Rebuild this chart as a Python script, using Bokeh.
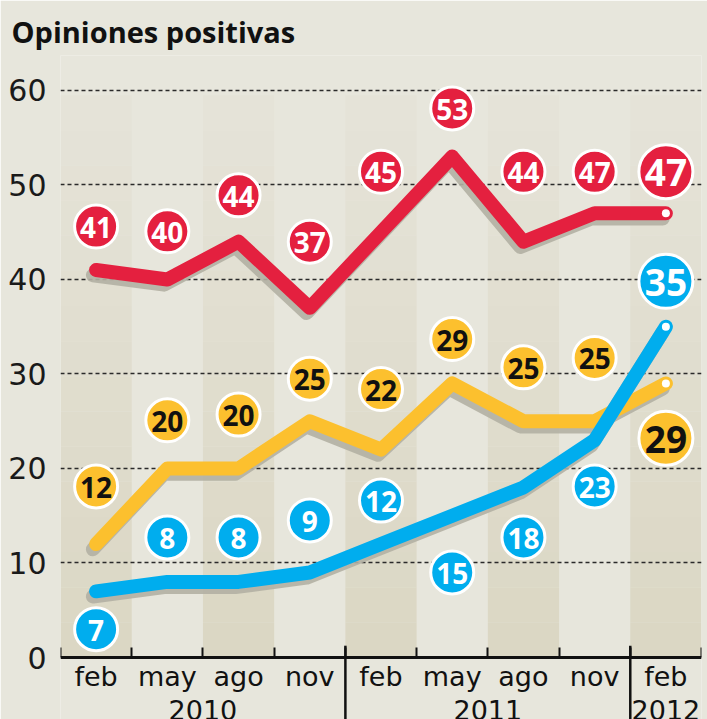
from bokeh.plotting import figure
from bokeh.models import FixedTicker, Range1d, ColumnDataSource
from bokeh.core.properties import value
from bokeh.embed import file_html
from bokeh.resources import INLINE

# ---- data ----
months = ["feb", "may", "ago", "nov", "feb", "may", "ago", "nov", "feb"]
years = ["2010", "2011", "2012"]
year_first_idx = [0, 4, 8]
year_last_idx = [3, 7, 8]
red = [41, 40, 44, 37, 45, 53, 44, 47, 47]
yellow = [12, 20, 20, 25, 22, 29, 25, 25, 29]
blue = [7, 8, 8, 9, 12, 15, 18, 23, 35]
# label bubble heights (data units) as placed in the original
red_lab = [45.6, 45.1, 48.9, 44.0, 51.4, 58.1, 51.4, 51.4, 51.4]
yellow_lab = [18.1, 25.1, 25.7, 29.5, 28.4, 33.7, 30.7, 31.7, 23.2]
blue_lab = [3.0, 12.7, 12.7, 14.5, 16.6, 9.0, 12.7, 18.1, 39.8]
y_ticks = [0, 10, 20, 30, 40, 50, 60]

RED = "#e4203f"
YEL = "#fcc02e"
BLU = "#00adee"
BG = "#e7e6dc"
SHADOW = "#b3b0a3"

n = len(months)
xs = list(range(n))

p = figure(width=707, height=719,
           x_range=Range1d(-0.5, 8.5), y_range=Range1d(-6.56, 63.70),
           min_border_left=60, min_border_right=6, min_border_top=55,
           min_border_bottom=0, output_backend="svg", toolbar_location=None)
p.background_fill_color = BG
p.border_fill_color = BG
p.outline_line_color = None
p.xgrid.visible = False
p.ygrid.visible = False

# title
p.title.text = "Opiniones positivas"
p.title.text_font = "Open Sans"
p.title.text_font_size = "29px"
p.title.text_font_style = "bold"
p.title.text_color = "#111111"
p.title.align = "left"
p.title.offset = -49
p.title.standoff = 9

# alternating column bands with a soft vertical gradient
band_top = 59.5
steps = 16
c_bot = (219, 215, 196)
c_top = (229, 227, 216)
for i in xs:
    if i % 2 == 0:
        for s in range(steps):
            t = s / (steps - 1)
            col = tuple(int(round(c_bot[k] + (c_top[k] - c_bot[k]) * t)) for k in range(3))
            y0 = band_top * s / steps
            y1 = band_top * (s + 1) / steps
            p.quad(left=i - 0.5, right=i + 0.5, bottom=y0, top=y1,
                   fill_color="#%02x%02x%02x" % col, line_color=None)

# dashed gridlines
p.hspan(y=y_ticks[1:], line_color="#2a2a2a", line_width=1.4, line_dash="4 3")

# year separators
sep_x = [f - 0.5 for f in year_first_idx[1:]]
p.segment(x0=sep_x, y0=[-8] * len(sep_x), x1=sep_x, y1=[1.25] * len(sep_x),
          line_color="#111111", line_width=2.5)

# year labels
year_x = [(a + b) / 2 for a, b in zip(year_first_idx, year_last_idx)]
p.text(x=year_x, y=[-4.45] * len(years), text=years,
       text_font=value("DejaVu Sans"), text_font_size="27px",
       text_align="center", text_baseline="top", text_color="#111111")

# lines with shadow
dx, dy = -0.045, -0.55
for series, col in [(yellow, YEL), (blue, BLU), (red, RED)]:
    p.line([x + dx for x in xs], [v + dy for v in series], line_color=SHADOW,
           line_width=14, line_join="round", line_cap="round", line_alpha=0.9)
    p.line(xs, series, line_color=col, line_width=14,
           line_join="round", line_cap="round")
    p.scatter([xs[-1]], [series[-1]], size=8, fill_color="white", line_color=None)

# value bubbles
for series, labs, col, tcol in [(red, red_lab, RED, "white"),
                                (yellow, yellow_lab, YEL, "#111111"),
                                (blue, blue_lab, BLU, "white")]:
    sizes = [43] * (n - 1) + [54]
    fsz = ["28px"] * (n - 1) + ["37px"]
    src = ColumnDataSource(dict(x=xs, y=labs, t=[str(v) for v in series],
                                s=sizes, f=fsz))
    p.scatter("x", "y", size="s", source=src, fill_color=col,
              line_color="white", line_width=3)
    p.text("x", "y", text="t", source=src, text_font=value("Open Sans"),
           text_font_style="bold", text_font_size="f", text_align="center",
           text_baseline="middle", text_color=tcol, y_offset=1)

# axes
p.yaxis.ticker = FixedTicker(ticks=y_ticks)
p.yaxis.axis_line_color = None
p.yaxis.major_tick_line_color = None
p.yaxis.minor_tick_line_color = None
p.yaxis.major_label_text_font = "DejaVu Sans"
p.yaxis.major_label_text_font_size = "30px"
p.yaxis.major_label_text_color = "#1a1a1a"
p.yaxis.major_label_standoff = 8

p.xaxis.ticker = FixedTicker(ticks=xs, minor_ticks=[i - 0.5 for i in range(n + 1)])
p.xaxis.major_label_overrides = {i: m for i, m in zip(xs, months)}
p.xaxis.fixed_location = 0
p.xaxis.axis_line_width = 3
p.xaxis.axis_line_color = "#111111"
p.xaxis.major_tick_line_color = None
p.xaxis.minor_tick_in = 10
p.xaxis.minor_tick_out = 0
p.xaxis.minor_tick_line_width = 2
p.xaxis.minor_tick_line_color = "#111111"
p.xaxis.major_label_text_font = "DejaVu Sans"
p.xaxis.major_label_text_font_size = "27px"
p.xaxis.major_label_text_color = "#111111"
p.xaxis.major_label_standoff = -3

open("out.html", "w").write(file_html(p, INLINE))
